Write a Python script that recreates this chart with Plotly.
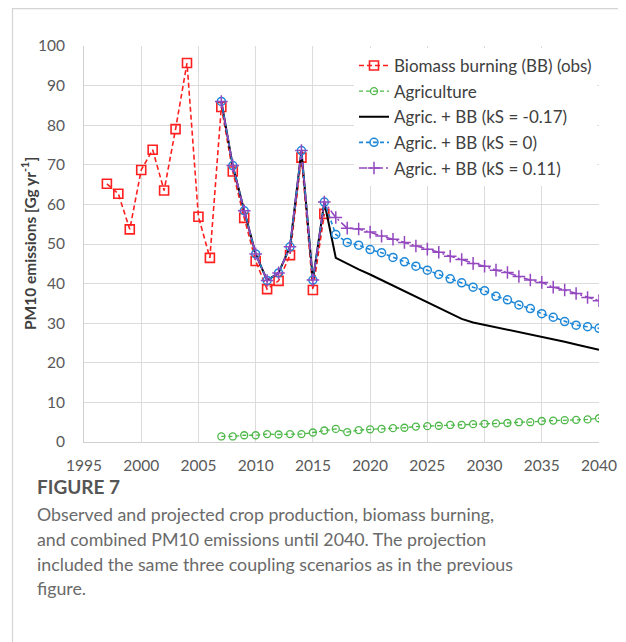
import plotly.graph_objects as go

# ---------------- data ----------------
years_bb = list(range(1997, 2017))
bb_obs = [65.2, 62.7, 53.7, 68.7, 73.8, 63.5, 79.0, 95.7, 56.9, 46.5,
          84.6, 68.3, 56.6, 45.7, 38.6, 40.7, 47.2, 71.8, 38.4, 57.6]

years_agri = list(range(2007, 2041))
agriculture = [1.4, 1.4, 1.7, 1.7, 2.0, 1.9, 2.0, 2.0, 2.4, 2.9,
               3.3, 2.5, 3.0, 3.2, 3.3, 3.5, 3.6, 3.9, 4.0, 4.1,
               4.3, 4.3, 4.5, 4.6, 4.7, 4.8, 5.0, 5.0, 5.3, 5.4,
               5.5, 5.6, 5.7, 6.0]

years_comb = list(range(2007, 2041))
combined_hist = [86.0, 69.8, 58.4, 47.5, 40.8, 42.7, 49.3, 73.6, 40.9, 60.6]
ks_neg = combined_hist + [46.5, 45.0, 43.6, 42.3, 40.9, 39.5, 38.1, 36.7, 35.3, 33.9,
                          32.5, 31.1, 30.2, 29.6, 29.0, 28.4, 27.8, 27.2, 26.6, 26.0,
                          25.3, 24.6, 23.9, 23.3]
ks_zero = combined_hist + [52.4, 50.4, 49.7, 48.6, 47.8, 46.6, 45.5, 44.4, 43.4, 42.3,
                           41.2, 40.2, 39.1, 38.2, 36.8, 35.9, 34.6, 33.7, 32.4, 31.5,
                           30.4, 29.5, 29.1, 28.7]
ks_pos = combined_hist + [56.7, 54.0, 53.8, 53.0, 52.0, 51.2, 50.4, 49.5, 48.7, 47.9,
                          46.9, 46.1, 45.1, 44.4, 43.4, 42.8, 41.8, 40.9, 40.3, 39.1,
                          38.4, 37.5, 36.5, 35.7]

x_ticks = list(range(1995, 2041, 5))
y_ticks = list(range(0, 101, 10))

names = ["Biomass burning (BB) (obs)", "Agriculture", "Agric. + BB (kS = -0.17)",
         "Agric. + BB (kS = 0)", "Agric. + BB (kS = 0.11)"]

y_title = "<b>PM10 emissions [Gg yr<sup>-1</sup>]</b>"
caption_title = "FIGURE 7"
caption_lines = [
    "Observed and projected crop production, biomass burning,",
    "and combined PM10 emissions until 2040. The projection",
    "included the same three coupling scenarios as in the previous",
    "figure.",
]

# ---------------- figure ----------------
RED = "#FF1F1F"
GREEN = "#4DB848"
BLUE = "#1E88D8"
PURPLE = "#9448C0"

fig = go.Figure()
fig.add_trace(go.Scatter(
    x=years_bb, y=bb_obs, name=names[0], mode="lines+markers", legendgroup="a",
    line=dict(color=RED, width=1.6, dash="5px,3px"),
    marker=dict(symbol="square-open", size=9, color=RED, line=dict(width=1.6))))
fig.add_trace(go.Scatter(
    x=years_agri, y=agriculture, name=names[1], mode="lines+markers", legendgroup="b",
    line=dict(color=GREEN, width=1.3, dash="4px,3px"),
    marker=dict(symbol="circle-open", size=7, color=GREEN, line=dict(width=1.3))))
fig.add_trace(go.Scatter(
    x=years_comb, y=ks_neg, name=names[2], mode="lines", legendgroup="c",
    line=dict(color="#000000", width=2)))
fig.add_trace(go.Scatter(
    x=years_comb, y=ks_zero, name=names[3], mode="lines+markers", legendgroup="d",
    line=dict(color=BLUE, width=1.6, dash="4px,3px"),
    marker=dict(symbol="circle-open", size=8, color=BLUE, line=dict(width=1.5))))
fig.add_trace(go.Scatter(
    x=years_comb, y=ks_pos, name=names[4], mode="lines+markers", legendgroup="e",
    line=dict(color=PURPLE, width=1.6, dash="8px,3px,2px,3px"),
    marker=dict(symbol="cross-thin-open", size=9, color=PURPLE, line=dict(width=1.5, color=PURPLE))))

# page body adds an 8px offset; positions below are given in window pixels
OFF = 8
W, H = 618, 634
L, R, T, B = 84 - OFF, 27, 46 - OFF, 200
pw = W - L - R
ph = H - T - B

def px_x(px):
    return (px - OFF - L) / pw

def px_y(py):
    return (H - B - (py - OFF)) / ph

# figure border
fig.add_shape(type="rect", xref="paper", yref="paper",
              x0=px_x(12.5), x1=px_x(620), y0=px_y(680), y1=px_y(8.6),
              line=dict(color="#d4d4d4", width=1.2), fillcolor="rgba(0,0,0,0)", layer="below")

# y-axis title
fig.add_annotation(xref="paper", yref="paper", x=px_x(28), y=px_y(244),
                   xanchor="center", yanchor="middle", showarrow=False, textangle=-90,
                   text=y_title, font=dict(family="Lato", size=15.5, color="#404040"))

# caption
fig.add_annotation(xref="paper", yref="paper", x=px_x(35), y=px_y(487),
                   xanchor="left", yanchor="middle", showarrow=False,
                   text="<b>" + caption_title + "</b>",
                   font=dict(family="Lato", size=19, color="#555555"))
for i, line in enumerate(caption_lines):
    fig.add_annotation(xref="paper", yref="paper", x=px_x(35), y=px_y(514 + i * 24.8),
                       xanchor="left", yanchor="middle", showarrow=False, text=line,
                       font=dict(family="Lato", size=17.8, color="#6a6a6a"))

fig.update_layout(
    width=W, height=H,
    margin=dict(l=L, r=R, t=T, b=B, autoexpand=False),
    paper_bgcolor="white", plot_bgcolor="white",
    font=dict(family="Lato", color="#595959"),
    showlegend=True,
    legend=dict(
        x=px_x(354), y=px_y(48), xanchor="left", yanchor="top",
        bgcolor="white", borderwidth=0,
        font=dict(family="Lato", size=17, color="#404040"),
        traceorder="grouped", tracegroupgap=0.5,
        itemwidth=30,
    ),
    xaxis=dict(
        range=[1995, 2040], tickvals=x_ticks, ticktext=[str(v) for v in x_ticks],
        showgrid=True, gridcolor="#dcdcdc", gridwidth=1,
        showline=True, linecolor="#d0d0d0", linewidth=1,
        zeroline=False, ticks="", tickfont=dict(size=15.5, color="#595959"),
        ticklabelstandoff=9,
    ),
    yaxis=dict(
        range=[0, 100], tickvals=y_ticks,
        showgrid=True, gridcolor="#dcdcdc", gridwidth=1,
        showline=True, linecolor="#d0d0d0", linewidth=1,
        zeroline=False, ticks="", tickfont=dict(size=15.5, color="#595959"),
        ticklabelstandoff=15,
    ),
)

fig.write_html("out.html")
